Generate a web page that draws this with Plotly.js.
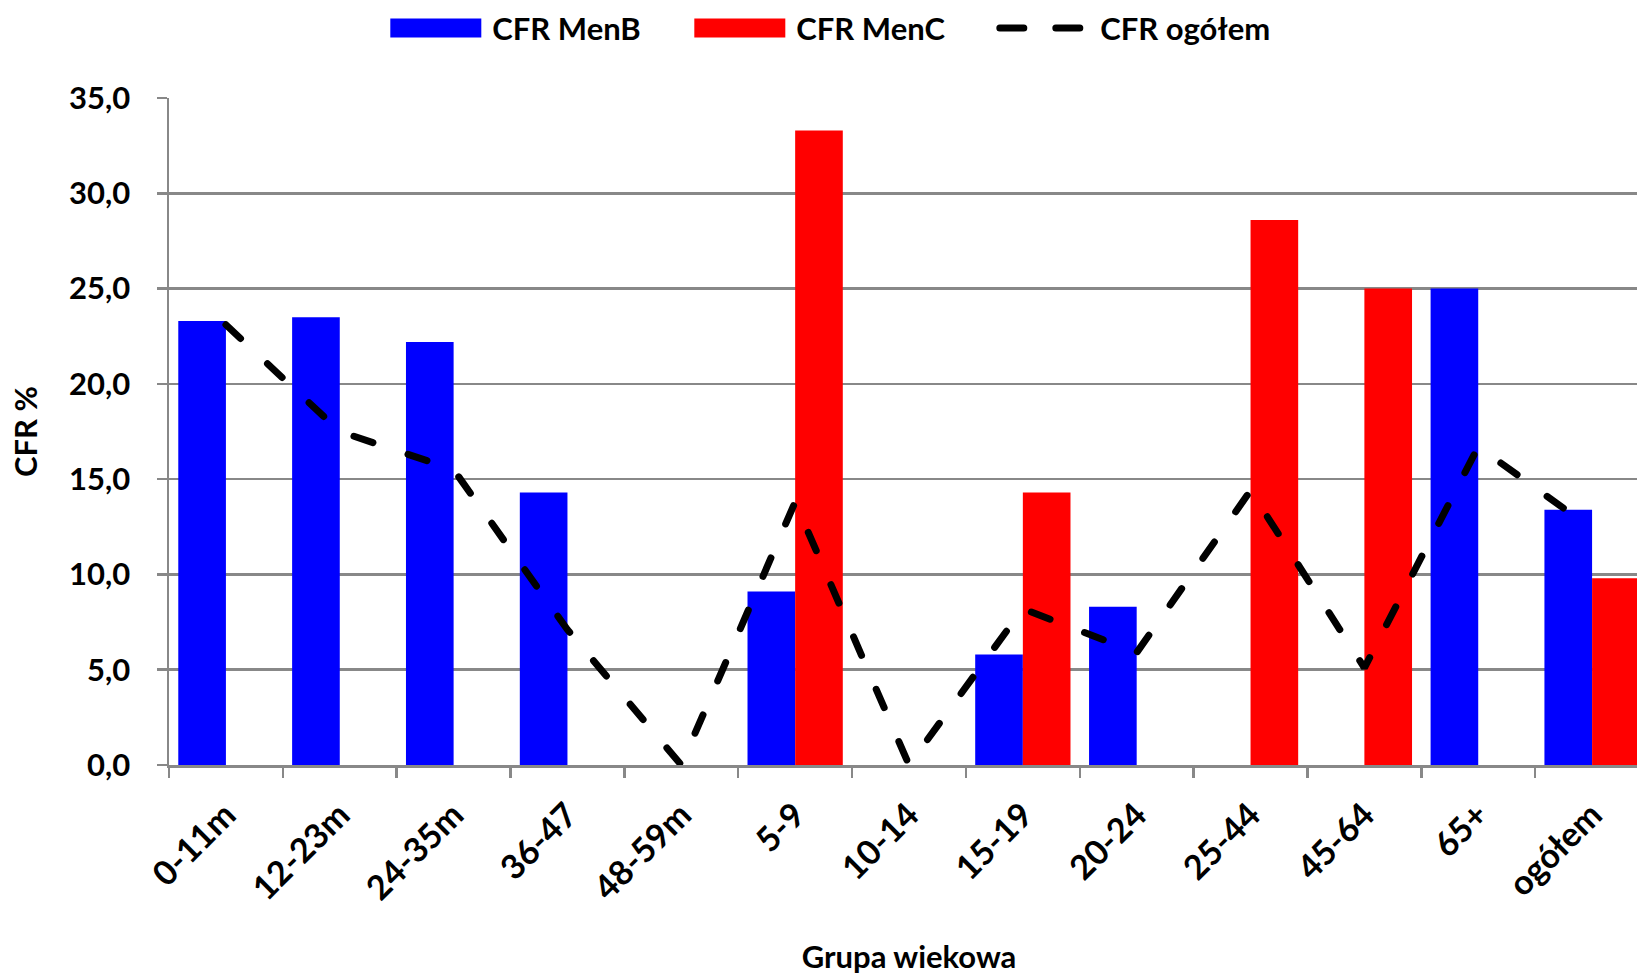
<!DOCTYPE html>
<html>
<head>
<meta charset="utf-8">
<script src="https://cdn.plot.ly/plotly-3.0.1.min.js"></script>
<style>
html, body { margin: 0; padding: 0; overflow: hidden; background: #fff; }
#chart { width: 1660px; height: 975px; }
.scatterlayer .js-line, .legend .js-line, .legend .legendlines path { stroke-linecap: round !important; }
</style>
</head>
<body>
<div id="chart"></div>
<script>
const categories = ['0-11m','12-23m','24-35m','36-47','48-59m','5-9','10-14','15-19','20-24','25-44','45-64','65+','ogółem'];
const cfrMenB   = [23.3, 23.5, 22.2, 14.3, 0, 9.1, 0, 5.8, 8.3, 0, 0, 25.0, 13.4];
const cfrMenC   = [0, 0, 0, 0, 0, 33.3, 0, 14.3, 0, 28.6, 25.0, 0, 9.8];
const cfrOgolem = [23.1, 17.5, 15.5, 7.1, 0.0, 13.8, 0.0, 8.2, 5.9, 14.4, 5.1, 16.7, 12.4];
const seriesNames = ['CFR MenB', 'CFR MenC', 'CFR ogółem'];
const yTicks = [0, 5, 10, 15, 20, 25, 30, 35];

const FONT = 'Lato, "Open Sans", sans-serif';
const GRID = '#888888';

const traces = [
  { type: 'bar', name: seriesNames[0], x: categories, y: cfrMenB,
    marker: { color: '#0000FF', line: { width: 0 } } },
  { type: 'bar', name: seriesNames[1], x: categories, y: cfrMenC,
    marker: { color: '#FF0000', line: { width: 0 } } },
  { type: 'scatter', mode: 'lines', name: seriesNames[2], x: categories, y: cfrOgolem,
    line: { color: '#000000', width: 7, dash: '20px,37px' }, cliponaxis: false }
];

const layout = {
  width: 1660, height: 975,
  margin: { l: 169, r: 11, t: 98, b: 210 },
  paper_bgcolor: '#ffffff', plot_bgcolor: '#ffffff',
  separators: ', ',
  font: { family: FONT, color: '#000000', weight: 700 },
  barmode: 'group', bargap: 0.163, bargroupgap: 0,
  showlegend: true,
  legend: {
    orientation: 'h', xref: 'container', yref: 'container',
    x: 0.2285, xanchor: 'left', y: 0.971, yanchor: 'middle',
    font: { family: FONT, size: 31, weight: 700, color: '#000' },
    itemwidth: 103, entrywidth: 186, entrywidthmode: 'pixels',
    traceorder: 'normal', bgcolor: 'rgba(0,0,0,0)'
  },
  xaxis: {
    type: 'category', tickson: 'boundaries', ticks: 'outside', ticklen: 10,
    tickwidth: 2.5, tickcolor: GRID, showline: true, linecolor: GRID, linewidth: 2.5,
    showgrid: false, tickangle: -45, ticklabelstandoff: 14,
    tickfont: { family: FONT, size: 34, weight: 700, color: '#000' },
    title: { text: 'Grupa wiekowa', standoff: 40,
             font: { family: FONT, size: 31, weight: 700, color: '#000' } },
    automargin: false
  },
  yaxis: {
    range: [0, 35], tickvals: yTicks, tickformat: '.1f',
    ticks: 'outside', ticklen: 10, tickwidth: 2.5, tickcolor: GRID,
    showline: true, linecolor: GRID, linewidth: 2.5,
    showgrid: true, gridcolor: GRID, gridwidth: 2.5, zeroline: false,
    ticklabelstandoff: 20,
    tickfont: { family: FONT, size: 31, weight: 700, color: '#000' },
    title: { text: 'CFR %', standoff: 22,
             font: { family: FONT, size: 31, weight: 700, color: '#000' } },
    automargin: false
  }
};

function restyleLegendSymbols() {
  // long colour bars for the bar series, two long dashes for the line series
  document.querySelectorAll('.legend .legendpoints path').forEach(function (p) {
    p.setAttribute('transform', '');
    p.setAttribute('d', 'M11,-9.5H102V9.5H11Z');
  });
  document.querySelectorAll('.legend .legendlines path').forEach(function (p) {
    p.setAttribute('transform', '');
    p.setAttribute('d', 'M12.5,0h80');
    p.style.strokeDasharray = '24px,32px';
    p.style.strokeLinecap = 'round';
  });
}

Plotly.newPlot('chart', traces, layout, { displayModeBar: false, staticPlot: true }).then(function (gd) {
  restyleLegendSymbols();
  gd.on('plotly_afterplot', restyleLegendSymbols);
});
</script>
</body>
</html>
